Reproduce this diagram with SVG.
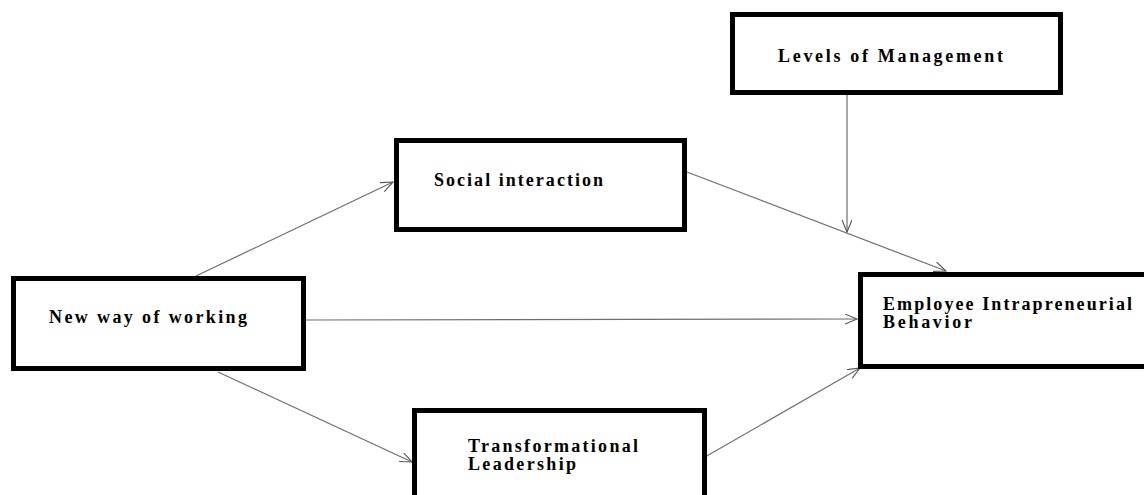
<svg xmlns="http://www.w3.org/2000/svg" width="1144" height="495" viewBox="0 0 1144 495">
<style>
.box{fill:#fff;stroke:#000;stroke-width:5}
.lbl{font-family:"Liberation Serif","Times New Roman","DejaVu Serif",serif;font-weight:bold;font-size:18px;fill:#000}
.conn{stroke:#6e6e6e;stroke-width:1.2;fill:none}
</style>
<defs>
<marker id="arr" markerUnits="userSpaceOnUse" markerWidth="14" markerHeight="12" refX="12" refY="5" orient="auto">
<path d="M0,0 L12,5 L0,10" fill="none" stroke="#555" stroke-width="1.1"/>
</marker>
</defs>
<rect width="1144" height="495" fill="#fff"/>
<g id="connectors">
<line class="conn" x1="196" y1="276" x2="393" y2="182" marker-end="url(#arr)"/>
<line class="conn" x1="218" y1="372" x2="412" y2="462" marker-end="url(#arr)"/>
<line class="conn" x1="306" y1="320" x2="857" y2="319" marker-end="url(#arr)"/>
<line class="conn" x1="687" y1="172" x2="946" y2="271" marker-end="url(#arr)"/>
<line class="conn" x1="705" y1="457" x2="860" y2="368" marker-end="url(#arr)"/>
<line class="conn" x1="847" y1="95" x2="847" y2="232" marker-end="url(#arr)"/>
</g>
<g id="levels">
<rect class="box" x="732.5" y="14.5" width="328" height="78"/>
<text class="lbl" x="778" y="62" textLength="225" lengthAdjust="spacing">Levels of Management</text>
</g>
<g id="social">
<rect class="box" x="396.5" y="140.5" width="288" height="89"/>
<text class="lbl" x="434" y="186" textLength="169" lengthAdjust="spacing">Social interaction</text>
</g>
<g id="newway">
<rect class="box" x="13.5" y="278.5" width="290" height="90"/>
<text class="lbl" x="49" y="323" textLength="198" lengthAdjust="spacing">New way of working</text>
</g>
<g id="employee">
<rect class="box" x="860.5" y="274.5" width="300" height="92"/>
<text class="lbl" x="883" y="310" textLength="249" lengthAdjust="spacing">Employee Intrapreneurial</text>
<text class="lbl" x="883" y="328" textLength="89" lengthAdjust="spacing">Behavior</text>
</g>
<g id="transformational">
<rect class="box" x="414.5" y="410.5" width="290" height="100"/>
<text class="lbl" x="468" y="452" textLength="170" lengthAdjust="spacing">Transformational</text>
<text class="lbl" x="468" y="470" textLength="108" lengthAdjust="spacing">Leadership</text>
</g>
</svg>
